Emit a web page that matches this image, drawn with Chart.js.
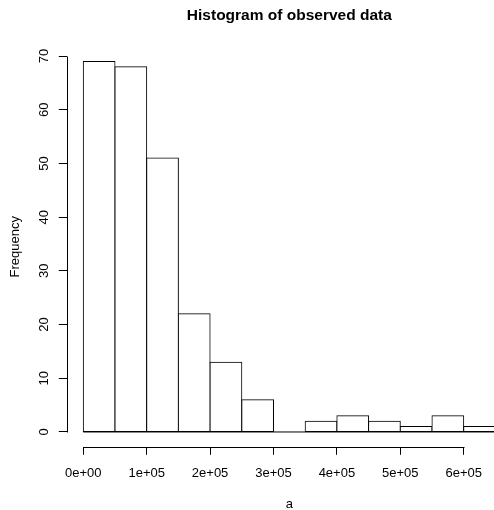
<!DOCTYPE html>
<html>
<head>
<meta charset="utf-8">
<script src="https://cdn.jsdelivr.net/npm/chart.js@4/dist/chart.umd.min.js"></script>
<style>
  html, body { margin: 0; padding: 0; background: #fff; overflow: hidden; }
  canvas { display: block; }
</style>
</head>
<body>
<canvas id="hist" width="494" height="510"></canvas>
<script>
// bin edges and counts of the histogram
const breaks = [0, 50000, 100000, 150000, 200000, 250000, 300000, 350000, 400000, 450000, 500000, 550000, 600000, 650000];
const counts = [69, 68, 51, 22, 13, 6, 0, 2, 3, 2, 1, 3, 1];
const xTickValues = [0, 100000, 200000, 300000, 400000, 500000, 600000];
const xTickLabels = ['0e+00', '1e+05', '2e+05', '3e+05', '4e+05', '5e+05', '6e+05'];
const yTickValues = [0, 10, 20, 30, 40, 50, 60, 70];
const mainTitle = 'Histogram of observed data';
const xTitle = 'a';

const bins = counts.map((c, i) => ({ x: (breaks[i] + breaks[i + 1]) / 2, y: c }));

const FONT = '"Liberation Sans", Arial, sans-serif';
Chart.defaults.font.family = FONT;
Chart.defaults.font.size = 13;
Chart.defaults.color = '#000';

// axis lines only run between first and last tick, like base graphics;
// main title and x label are centred on the full bin range
const rStyle = {
  id: 'rStyle',
  afterDatasetsDraw(chart) {
    const { ctx, chartArea, scales: { x, y } } = chart;
    ctx.save();
    ctx.strokeStyle = '#000';
    ctx.lineWidth = 1;
    // bottom edge of the bars (also shows the empty bin)
    const y0 = y.getPixelForValue(0);
    ctx.beginPath();
    ctx.moveTo(x.getPixelForValue(breaks[0]), y0);
    ctx.lineTo(x.getPixelForValue(breaks[breaks.length - 1]), y0);
    ctx.stroke();

    const xt = x.ticks, yt = y.ticks;
    const by = Math.round(chartArea.bottom) + 0.5;
    const lx = Math.round(chartArea.left) + 0.5;
    ctx.beginPath();
    ctx.moveTo(Math.round(x.getPixelForValue(xt[0].value)) + 0.5, by);
    ctx.lineTo(Math.round(x.getPixelForValue(xt[xt.length - 1].value)) + 0.5, by);
    ctx.moveTo(lx, Math.round(y.getPixelForValue(yt[0].value)) + 0.5);
    ctx.lineTo(lx, Math.round(y.getPixelForValue(yt[yt.length - 1].value)) + 0.5);
    ctx.stroke();

    const cx = x.getPixelForValue((breaks[0] + breaks[breaks.length - 1]) / 2);
    ctx.fillStyle = '#000';
    ctx.textAlign = 'center';
    ctx.textBaseline = 'middle';
    ctx.font = 'bold 15.5px ' + FONT;
    ctx.fillText(mainTitle, cx, 15.5);
    ctx.textBaseline = 'alphabetic';
    ctx.font = '13px ' + FONT;
    ctx.fillText(xTitle, cx, 508);
    ctx.restore();
  }
};

new Chart(document.getElementById('hist'), {
  type: 'bar',
  data: {
    datasets: [{
      data: bins,
      backgroundColor: '#fff',
      borderColor: '#000',
      borderWidth: 1,
      borderSkipped: false,
      inflateAmount: 0.5,
      barPercentage: 1,
      categoryPercentage: 1
    }]
  },
  options: {
    responsive: false,
    animation: false,
    layout: { padding: { top: 46.6, left: 0, right: 0, bottom: 0 } },
    plugins: {
      legend: { display: false },
      tooltip: { enabled: false },
      title: { display: false }
    },
    scales: {
      x: {
        type: 'linear',
        min: -26000,
        max: 647800,
        offset: false,
        grid: { display: true, offset: false, drawOnChartArea: false, drawTicks: true, tickLength: 8, color: '#000' },
        border: { display: false },
        afterBuildTicks: s => { s.ticks = xTickValues.map(v => ({ value: v })); },
        ticks: {
          autoSkip: false,
          maxRotation: 0,
          padding: 11,
          callback: (v, i) => xTickLabels[i]
        },
        afterFit: s => { s.height = 63.2; }
      },
      y: {
        min: -2.76,
        max: 71.76,
        grid: { display: true, drawOnChartArea: false, drawTicks: true, tickLength: 8, color: '#000' },
        border: { display: false },
        afterBuildTicks: s => { s.ticks = yTickValues.map(v => ({ value: v })); },
        ticks: {
          autoSkip: false,
          minRotation: 90,
          maxRotation: 90,
          crossAlign: 'center',
          padding: 7.5
        },
        title: { display: true, text: 'Frequency', padding: { top: 8, bottom: 0 } },
        afterFit: s => { s.width = 66.8; }
      }
    }
  },
  plugins: [rStyle]
});
</script>
</body>
</html>
